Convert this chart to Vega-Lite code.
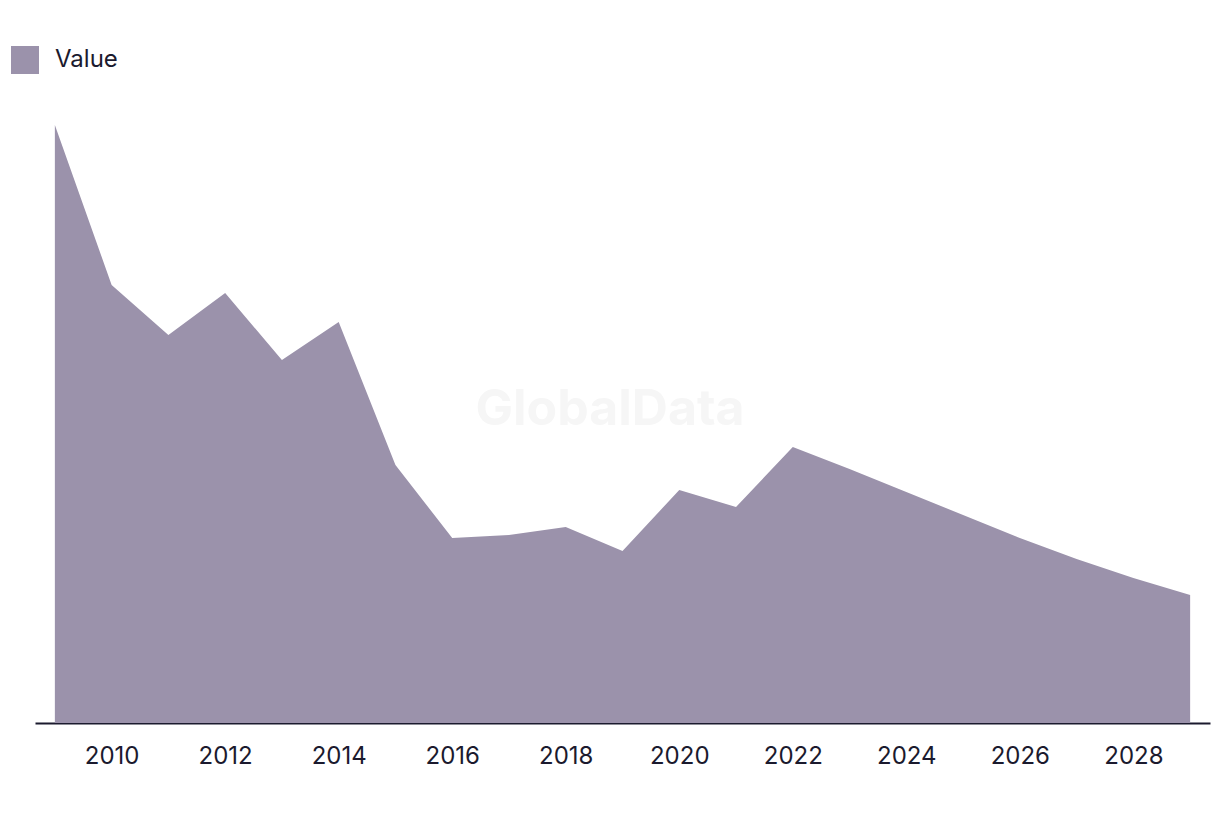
{
  "$schema": "https://vega.github.io/schema/vega-lite/v6.json",
  "width": 1175,
  "height": 600,
  "autosize": {"type": "none"},
  "padding": {"left": 35, "top": 123, "right": 10, "bottom": 93},
  "background": "white",
  "config": {
    "view": {"stroke": null},
    "font": "Inter"
  },
  "encoding": {
    "x": {
      "field": "year",
      "type": "quantitative",
      "scale": {"domain": [2008.65, 2029.35], "nice": false, "zero": false},
      "axis": {
        "title": null,
        "values": [2010, 2012, 2014, 2016, 2018, 2020, 2022, 2024, 2026, 2028],
        "format": "d",
        "grid": false,
        "ticks": false,
        "labelPadding": 21,
        "labelFontSize": 24,
        "labelColor": "#1b1a2e",
        "domainColor": "#1b1a2e",
        "domainWidth": 2
      }
    },
    "y": {
      "field": "value",
      "type": "quantitative",
      "scale": {"domain": [0, 600], "nice": false},
      "axis": null
    }
  },
  "layer": [
    {
      "data": {
        "values": [
          {"year": 2009, "value": 598, "series": "Value"},
          {"year": 2010, "value": 438, "series": "Value"},
          {"year": 2011, "value": 388, "series": "Value"},
          {"year": 2012, "value": 430, "series": "Value"},
          {"year": 2013, "value": 363, "series": "Value"},
          {"year": 2014, "value": 401, "series": "Value"},
          {"year": 2015, "value": 258, "series": "Value"},
          {"year": 2016, "value": 185, "series": "Value"},
          {"year": 2017, "value": 188, "series": "Value"},
          {"year": 2018, "value": 196, "series": "Value"},
          {"year": 2019, "value": 172, "series": "Value"},
          {"year": 2020, "value": 233, "series": "Value"},
          {"year": 2021, "value": 216, "series": "Value"},
          {"year": 2022, "value": 276, "series": "Value"},
          {"year": 2023, "value": 254, "series": "Value"},
          {"year": 2024, "value": 231, "series": "Value"},
          {"year": 2025, "value": 208, "series": "Value"},
          {"year": 2026, "value": 185, "series": "Value"},
          {"year": 2027, "value": 164, "series": "Value"},
          {"year": 2028, "value": 145, "series": "Value"},
          {"year": 2029, "value": 128, "series": "Value"}
        ]
      },
      "mark": {"type": "area"},
      "encoding": {
        "color": {
          "field": "series",
          "type": "nominal",
          "scale": {"range": ["#9b92ab"]},
          "legend": {
            "title": null,
            "orient": "none",
            "legendX": -25,
            "legendY": -78,
            "symbolType": "square",
            "symbolSize": 784,
            "labelFontSize": 24,
            "labelColor": "#1b1a2e",
            "labelOffset": 15
          }
        }
      }
    },
    {
      "data": {"values": [{"year": 2018.78, "value": 313, "label": "GlobalData"}]},
      "mark": {"type": "text", "fontSize": 50, "fontWeight": "bold", "color": "#f6f6f6"},
      "encoding": {
        "text": {"field": "label", "type": "nominal"}
      }
    }
  ]
}
